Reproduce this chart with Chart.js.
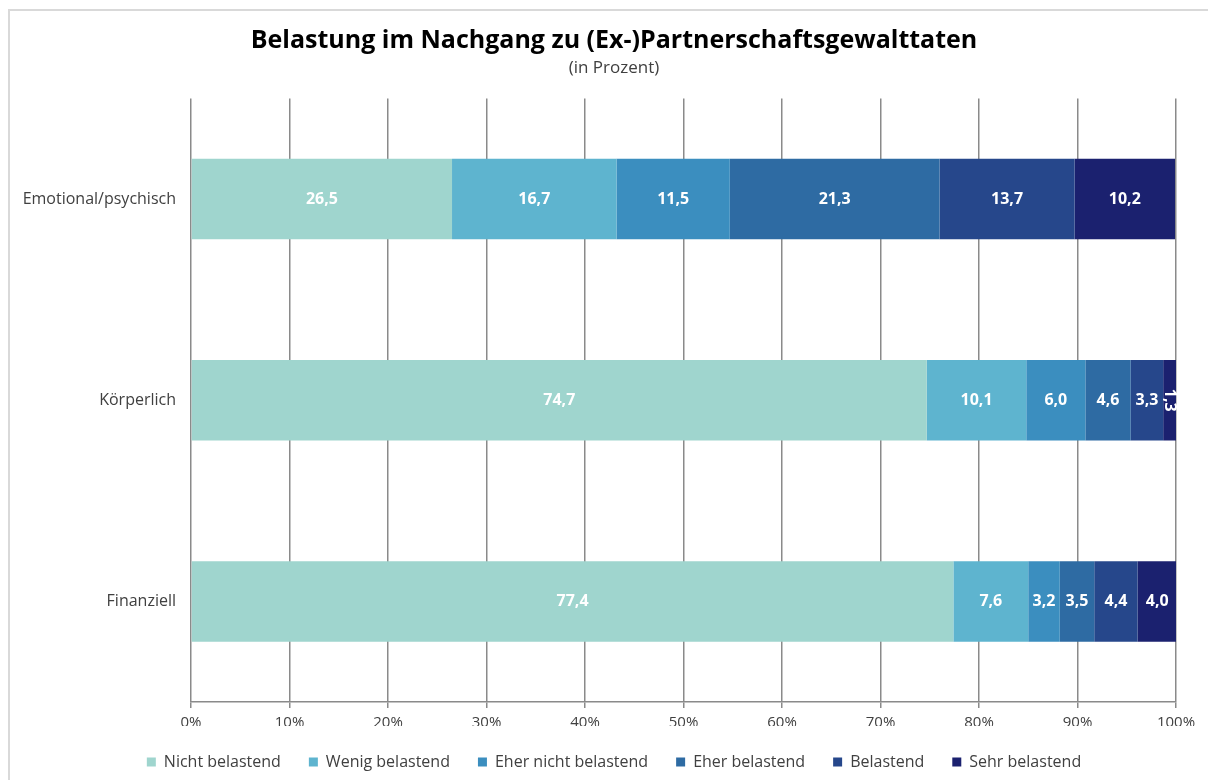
<!DOCTYPE html>
<html lang="de">
<head>
<meta charset="utf-8">
<title>Belastung im Nachgang zu (Ex-)Partnerschaftsgewalttaten</title>
<script src="https://cdn.jsdelivr.net/npm/chart.js@4/dist/chart.umd.min.js"></script>
<style>
  html, body { margin: 0; padding: 0; background: #fff; }
  #wrap { position: relative; width: 1208px; height: 780px; overflow: hidden; }
  #frame { position: absolute; left: 8px; top: 9px; width: 1210px; height: 790px; border: 2px solid #d9d9d9; box-sizing: border-box; pointer-events: none; }
  canvas { position: absolute; left: 0; top: 0; }
</style>
</head>
<body>
<div id="wrap">
  <div id="frame"></div>
  <canvas id="chart" width="1208" height="780"></canvas>
</div>
<script>
/* Belastung — gestapelte Balken, Werte in Prozent */

const categories = ['Emotional/psychisch', 'Körperlich', 'Finanziell'];
const seriesNames = ['Nicht belastend', 'Wenig belastend', 'Eher nicht belastend', 'Eher belastend', 'Belastend', 'Sehr belastend'];

const nichtBelastend     = [26.5, 74.7, 77.4];
const wenigBelastend     = [16.7, 10.1, 7.6];
const eherNichtBelastend = [11.5, 6.0, 3.2];
const eherBelastend      = [21.3, 4.6, 3.5];
const belastend          = [13.7, 3.3, 4.4];
const sehrBelastend      = [10.2, 1.3, 4.0];

const xTicks = [0, 10, 20, 30, 40, 50, 60, 70, 80, 90, 100];

const colors = ['#9fd5ce', '#5eb4cf', '#3b8ebf', '#2e6ba3', '#26478b', '#1b216f'];
const FONT = '"Open Sans", "Noto Sans", sans-serif';

const values = [nichtBelastend, wenigBelastend, eherNichtBelastend, eherBelastend, belastend, sehrBelastend];

// white value labels in the middle of each segment, rotated when the segment is too narrow
const barLabels = {
  id: 'barLabels',
  afterDatasetsDraw(chart) {
    const ctx = chart.ctx;
    ctx.save();
    ctx.font = `bold 16px ${FONT}`;
    ctx.fillStyle = '#ffffff';
    ctx.textAlign = 'center';
    ctx.textBaseline = 'middle';
    chart.data.datasets.forEach((ds, di) => {
      chart.getDatasetMeta(di).data.forEach((bar, i) => {
        const v = ds.data[i];
        const txt = v.toFixed(1).replace('.', ',');
        const cx = (bar.x + bar.base) / 2;
        const w = Math.abs(bar.x - bar.base);
        if (ctx.measureText(txt).width + 4 > w) {
          ctx.save();
          ctx.translate(cx, bar.y);
          ctx.rotate(Math.PI / 2);
          ctx.fillText(txt, 0, 0);
          ctx.restore();
        } else {
          ctx.fillText(txt, cx, bar.y);
        }
      });
    });
    ctx.restore();
  },
};

// title, subtitle and legend sit a bit right of the box centre in the original
const shiftBlocks = {
  id: 'shiftBlocks',
  afterLayout(chart) {
    chart.boxes.forEach(b => {
      if (b.axis) return;
      if (b.position === 'top' || b.position === 'bottom') {
        b.left += 21;
        b.right += 21;
      }
    });
  },
};

new Chart(document.getElementById('chart'), {
  type: 'bar',
  data: {
    labels: categories,
    datasets: seriesNames.map((name, k) => ({
      label: name,
      data: values[k],
      backgroundColor: colors[k],
      borderWidth: 0,
      categoryPercentage: 0.4,
      barPercentage: 1.0,
    })),
  },
  options: {
    indexAxis: 'y',
    responsive: false,
    animation: false,
    layout: { padding: { left: 10, right: 32, top: 14, bottom: 0 } },
    plugins: {
      title: {
        display: true,
        text: 'Belastung im Nachgang zu (Ex-)Partnerschaftsgewalttaten',
        color: '#000',
        font: { family: FONT, size: 25, weight: 'bold' },
        padding: { top: 12, bottom: 2 },
      },
      subtitle: {
        display: true,
        text: '(in Prozent)',
        color: '#404040',
        font: { family: FONT, size: 17 },
        padding: { top: 0, bottom: 20 },
      },
      legend: {
        position: 'bottom',
        labels: {
          boxWidth: 9, boxHeight: 9, padding: 28,
          color: '#404040',
          font: { family: FONT, size: 16 },
        },
      },
      tooltip: { enabled: false },
    },
    scales: {
      x: {
        stacked: true, min: 0, max: 100,
        afterBuildTicks: s => { s.ticks = xTicks.map(v => ({ value: v })); },
        afterFit: s => { s.height -= 12; },
        ticks: { color: '#404040', font: { family: FONT, size: 15 }, padding: 6, callback: v => v + '%' },
        grid: { color: '#8a8a8a', lineWidth: 1.5, tickLength: 6 },
        border: { color: '#8a8a8a', width: 1.5 },
      },
      y: {
        stacked: true,
        afterFit: s => { s.width = 181; },
        ticks: { color: '#404040', font: { family: FONT, size: 16 }, padding: 7 },
        grid: { display: false },
        border: { display: false },
      },
    },
  },
  plugins: [barLabels, shiftBlocks],
});
</script>
</body>
</html>
